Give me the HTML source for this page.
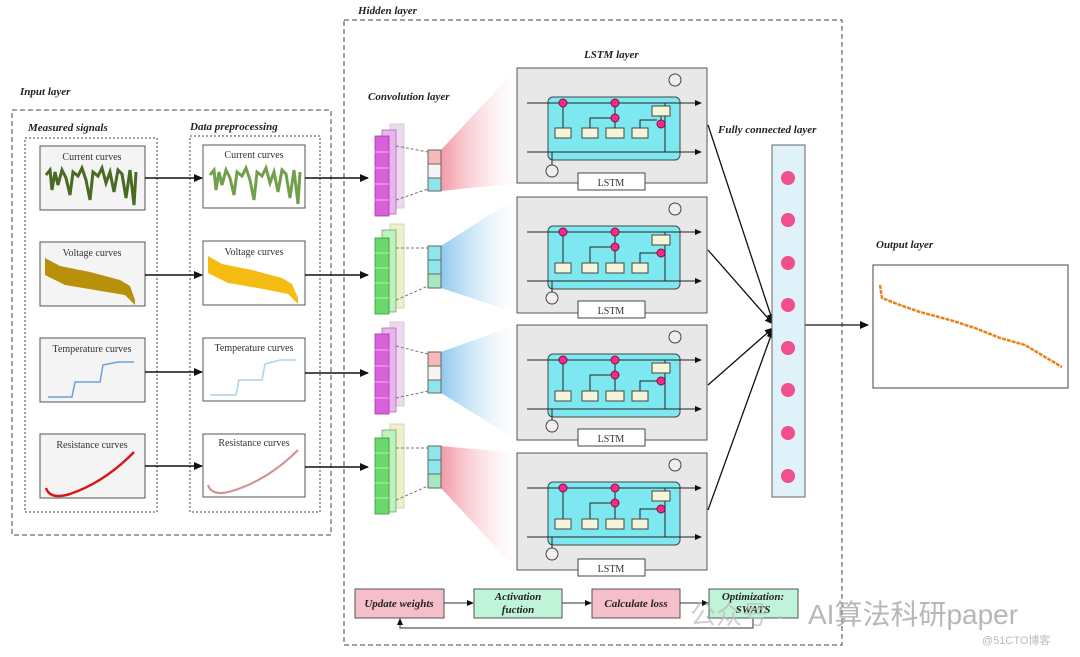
<!DOCTYPE html>
<html><head><meta charset="utf-8"><style>
body{margin:0;background:#fff;}
svg{display:block;font-family:"Liberation Serif",serif;}
.it{font-style:italic;font-weight:bold;font-size:11px;fill:#222}
.bt{font-size:10px;fill:#333}
</style></head><body>
<svg width="1080" height="657" viewBox="0 0 1080 657" xmlns="http://www.w3.org/2000/svg">
<defs>
<marker id="a" markerUnits="userSpaceOnUse" markerWidth="9" markerHeight="8" refX="8" refY="4" orient="auto"><path d="M0,0 L9,4 L0,8 z" fill="#111"/></marker>
<marker id="s" markerUnits="userSpaceOnUse" markerWidth="7" markerHeight="6" refX="6" refY="3" orient="auto"><path d="M0,0 L7,3 L0,6 z" fill="#111"/></marker>
<linearGradient id="gp" x1="0" x2="1"><stop offset="0" stop-color="#f29aa6"/><stop offset="1" stop-color="#fff" stop-opacity="0.3"/></linearGradient>
<linearGradient id="gb" x1="0" x2="1"><stop offset="0" stop-color="#8ec8ee"/><stop offset="1" stop-color="#fff" stop-opacity="0.3"/></linearGradient>
</defs>
<rect width="1080" height="657" fill="#fff"/>
<text x="20" y="95" class="it">Input layer</text>
<rect x="12" y="110" width="319" height="425" fill="none" stroke="#444" stroke-dasharray="5,3"/>
<text x="28" y="131" class="it" font-size="10">Measured signals</text>
<rect x="25" y="138" width="132" height="374" fill="none" stroke="#444" stroke-dasharray="2,2"/>
<text x="190" y="130" class="it" font-size="10">Data preprocessing</text>
<rect x="190" y="136" width="130" height="376" fill="none" stroke="#444" stroke-dasharray="2,2"/>
<g stroke="#555" fill="#f4f4f4">
<rect x="40" y="146" width="105" height="64"/><rect x="40" y="242" width="105" height="64"/><rect x="40" y="338" width="105" height="64"/><rect x="40" y="434" width="105" height="64"/>
<rect x="203" y="145" width="102" height="63" fill="#fff"/><rect x="203" y="241" width="102" height="64" fill="#fff"/><rect x="203" y="338" width="102" height="63" fill="#fff"/><rect x="203" y="434" width="102" height="63" fill="#fff"/>
</g>
<g class="bt" text-anchor="middle">
<text x="92" y="160">Current curves</text><text x="92" y="256">Voltage curves</text><text x="92" y="352">Temperature curves</text><text x="92" y="448">Resistance curves</text>
<text x="254" y="158">Current curves</text><text x="254" y="255">Voltage curves</text><text x="254" y="351">Temperature curves</text><text x="254" y="446">Resistance curves</text>
</g>
<polyline points="46,175 50,170 52,190 55,172 58,185 62,170 66,178 70,195 73,172 78,176 82,168 86,180 90,200 93,172 98,176 102,168 106,183 110,172 114,192 118,170 122,174 126,198 130,170 134,205 136,172" fill="none" stroke="#4a6a24" stroke-width="3"/>
<polyline points="210,175 214,170 216,190 219,172 222,185 226,170 230,178 234,195 237,172 242,176 246,168 250,180 254,200 257,172 262,176 266,168 270,183 274,172 278,192 282,170 286,174 290,198 294,170 298,204 300,172" fill="none" stroke="#72a04a" stroke-width="3"/>
<path d="M45,258 L60,266 L90,272 L120,280 L130,286 L135,300 L135,305 L125,295 L95,290 L65,285 L45,275 z" fill="#b8900a"/>
<path d="M208,256 L222,264 L252,270 L282,278 L292,284 L298,298 L298,304 L288,294 L258,288 L228,283 L208,273 z" fill="#f5bd14"/>
<polyline points="48,397 72,397 75,382 100,382 103,365 118,362 134,362" fill="none" stroke="#6fa0d8" stroke-width="1.5"/>
<polyline points="210,395 236,395 239,380 262,380 265,364 280,360 296,360" fill="none" stroke="#a8d4ec" stroke-width="1.5"/>
<path d="M46,488 Q50,500 70,494 Q105,482 134,452" fill="none" stroke="#d81818" stroke-width="2.5"/>
<path d="M208,485 Q212,497 232,491 Q268,480 298,450" fill="none" stroke="#d49090" stroke-width="2"/>
<g stroke="#111" stroke-width="1.5" marker-end="url(#a)" fill="none">
<line x1="145" y1="178" x2="202" y2="178"/><line x1="145" y1="275" x2="202" y2="275"/><line x1="145" y1="372" x2="202" y2="372"/><line x1="145" y1="466" x2="202" y2="466"/>
<line x1="305" y1="178" x2="368" y2="178"/><line x1="305" y1="275" x2="368" y2="275"/><line x1="305" y1="373" x2="368" y2="373"/><line x1="305" y1="467" x2="368" y2="467"/>
</g>
<text x="358" y="14" class="it">Hidden layer</text>
<rect x="344" y="20" width="498" height="625" fill="none" stroke="#444" stroke-dasharray="5,3"/>
<text x="368" y="100" class="it" font-size="10">Convolution layer</text>
<text x="584" y="58" class="it" font-size="10">LSTM layer</text>
<text x="718" y="133" class="it" font-size="10">Fully connected layer</text>
<!-- conv stacks -->
<g stroke-width="0.8">
<rect x="390" y="124" width="14" height="84" fill="#ecd8f0" stroke="#ccb"/>
<rect x="382" y="130" width="14" height="84" fill="#e6b6ec" stroke="#b6a"/>
<rect x="375" y="136" width="14" height="80" fill="#d860d8" stroke="#a3a"/>
<path d="M375,152h14M375,168h14M375,184h14M375,200h14" stroke="#f4d4f4"/>
<rect x="390" y="224" width="14" height="84" fill="#f0f0c8" stroke="#ccb"/>
<rect x="382" y="230" width="14" height="82" fill="#bff0bf" stroke="#6a6"/>
<rect x="375" y="238" width="14" height="76" fill="#6ad86a" stroke="#393"/>
<path d="M375,253h14M375,268h14M375,283h14M375,298h14" stroke="#d4f4d4"/>
<rect x="390" y="322" width="14" height="84" fill="#ecd8f0" stroke="#ccb"/>
<rect x="382" y="328" width="14" height="84" fill="#e6b6ec" stroke="#b6a"/>
<rect x="375" y="334" width="14" height="80" fill="#d860d8" stroke="#a3a"/>
<path d="M375,350h14M375,366h14M375,382h14M375,398h14" stroke="#f4d4f4"/>
<rect x="390" y="424" width="14" height="84" fill="#f0f0c8" stroke="#ccb"/>
<rect x="382" y="430" width="14" height="82" fill="#bff0bf" stroke="#6a6"/>
<rect x="375" y="438" width="14" height="76" fill="#6ad86a" stroke="#393"/>
<path d="M375,453h14M375,468h14M375,483h14M375,498h14" stroke="#d4f4d4"/>
</g>
<polygon points="441,150 517,68 517,183 441,191" fill="url(#gp)"/>
<polygon points="441,246 517,197 517,313 441,288" fill="url(#gb)"/>
<polygon points="441,352 517,325 517,440 441,393" fill="url(#gb)"/>
<polygon points="441,446 517,453 517,570 441,488" fill="url(#gp)"/>
<rect x="428" y="150" width="13" height="14" fill="#f6b8b8" stroke="#666"/><rect x="428" y="164" width="13" height="14" fill="#f4f4f4" stroke="#666"/><rect x="428" y="178" width="13" height="13" fill="#8fe6ea" stroke="#666"/>
<rect x="428" y="246" width="13" height="14" fill="#8fe6ea" stroke="#666"/><rect x="428" y="260" width="13" height="14" fill="#8fe6ea" stroke="#666"/><rect x="428" y="274" width="13" height="14" fill="#a8e8c0" stroke="#666"/>
<rect x="428" y="352" width="13" height="14" fill="#f6b8b8" stroke="#666"/><rect x="428" y="366" width="13" height="14" fill="#f4f4f4" stroke="#666"/><rect x="428" y="380" width="13" height="13" fill="#8fe6ea" stroke="#666"/>
<rect x="428" y="446" width="13" height="14" fill="#8fe6ea" stroke="#666"/><rect x="428" y="460" width="13" height="14" fill="#8fe6ea" stroke="#666"/><rect x="428" y="474" width="13" height="14" fill="#a8e8c0" stroke="#666"/>
<g stroke="#777" stroke-dasharray="3,2" fill="none">
<line x1="396" y1="146" x2="428" y2="152"/><line x1="396" y1="200" x2="428" y2="189"/>
<line x1="396" y1="248" x2="428" y2="248"/><line x1="396" y1="300" x2="428" y2="286"/>
<line x1="396" y1="346" x2="428" y2="354"/><line x1="396" y1="398" x2="428" y2="391"/>
<line x1="396" y1="448" x2="428" y2="448"/><line x1="396" y1="500" x2="428" y2="486"/>
</g>
<!-- LSTM blocks -->
<g transform="translate(517,68)">
<rect width="190" height="115" fill="#e8e8e8" stroke="#555"/>
<rect x="31" y="29" width="132" height="63" rx="5" fill="#7ee8f0" stroke="#444"/>
<line x1="10" y1="35" x2="184" y2="35" stroke="#222" marker-end="url(#s)"/><line x1="10" y1="84" x2="184" y2="84" stroke="#222" marker-end="url(#s)"/>
<path d="M46,60V39M98,60V54M98,46V39M73,60V50H94M123,60V52H140M144,48V52M148,35V84M35,97V84" stroke="#222" fill="none"/>
<g fill="#f4f4d8" stroke="#444"><rect x="38" y="60" width="16" height="10"/><rect x="65" y="60" width="16" height="10"/><rect x="89" y="60" width="18" height="10"/><rect x="115" y="60" width="16" height="10"/><rect x="135" y="38" width="18" height="10"/></g>
<g fill="#f29" stroke="#622"><circle cx="46" cy="35" r="4"/><circle cx="98" cy="35" r="4"/><circle cx="98" cy="50" r="4"/><circle cx="144" cy="56" r="4"/></g>
<circle cx="35" cy="103" r="6" fill="#eee" stroke="#444"/><circle cx="158" cy="12" r="6" fill="#eee" stroke="#444"/>
<rect x="61" y="105" width="67" height="17" fill="#fff" stroke="#444"/><text x="94" y="118" text-anchor="middle" class="bt">LSTM</text>
</g>
<g transform="translate(517,197)">
<rect width="190" height="116" fill="#e8e8e8" stroke="#555"/>
<rect x="31" y="29" width="132" height="63" rx="5" fill="#7ee8f0" stroke="#444"/>
<line x1="10" y1="35" x2="184" y2="35" stroke="#222" marker-end="url(#s)"/><line x1="10" y1="84" x2="184" y2="84" stroke="#222" marker-end="url(#s)"/>
<path d="M46,66V39M98,66V54M98,46V39M73,66V50H94M123,66V56H140M148,35V84M35,95V84" stroke="#222" fill="none"/>
<g fill="#f4f4d8" stroke="#444"><rect x="38" y="66" width="16" height="10"/><rect x="65" y="66" width="16" height="10"/><rect x="89" y="66" width="18" height="10"/><rect x="115" y="66" width="16" height="10"/><rect x="135" y="38" width="18" height="10"/></g>
<g fill="#f29" stroke="#622"><circle cx="46" cy="35" r="4"/><circle cx="98" cy="35" r="4"/><circle cx="98" cy="50" r="4"/><circle cx="144" cy="56" r="4"/></g>
<circle cx="35" cy="101" r="6" fill="#eee" stroke="#444"/><circle cx="158" cy="12" r="6" fill="#eee" stroke="#444"/>
<rect x="61" y="104" width="67" height="17" fill="#fff" stroke="#444"/><text x="94" y="117" text-anchor="middle" class="bt">LSTM</text>
</g>
<g transform="translate(517,325)">
<rect width="190" height="115" fill="#e8e8e8" stroke="#555"/>
<rect x="31" y="29" width="132" height="63" rx="5" fill="#7ee8f0" stroke="#444"/>
<line x1="10" y1="35" x2="184" y2="35" stroke="#222" marker-end="url(#s)"/><line x1="10" y1="84" x2="184" y2="84" stroke="#222" marker-end="url(#s)"/>
<path d="M46,66V39M98,66V54M98,46V39M73,66V50H94M123,66V56H140M148,35V84M35,95V84" stroke="#222" fill="none"/>
<g fill="#f4f4d8" stroke="#444"><rect x="38" y="66" width="16" height="10"/><rect x="65" y="66" width="16" height="10"/><rect x="89" y="66" width="18" height="10"/><rect x="115" y="66" width="16" height="10"/><rect x="135" y="38" width="18" height="10"/></g>
<g fill="#f29" stroke="#622"><circle cx="46" cy="35" r="4"/><circle cx="98" cy="35" r="4"/><circle cx="98" cy="50" r="4"/><circle cx="144" cy="56" r="4"/></g>
<circle cx="35" cy="101" r="6" fill="#eee" stroke="#444"/><circle cx="158" cy="12" r="6" fill="#eee" stroke="#444"/>
<rect x="61" y="104" width="67" height="17" fill="#fff" stroke="#444"/><text x="94" y="117" text-anchor="middle" class="bt">LSTM</text>
</g>
<g transform="translate(517,453)">
<rect width="190" height="117" fill="#e8e8e8" stroke="#555"/>
<rect x="31" y="29" width="132" height="63" rx="5" fill="#7ee8f0" stroke="#444"/>
<line x1="10" y1="35" x2="184" y2="35" stroke="#222" marker-end="url(#s)"/><line x1="10" y1="84" x2="184" y2="84" stroke="#222" marker-end="url(#s)"/>
<path d="M46,66V39M98,66V54M98,46V39M73,66V50H94M123,66V56H140M148,35V84M35,95V84" stroke="#222" fill="none"/>
<g fill="#f4f4d8" stroke="#444"><rect x="38" y="66" width="16" height="10"/><rect x="65" y="66" width="16" height="10"/><rect x="89" y="66" width="18" height="10"/><rect x="115" y="66" width="16" height="10"/><rect x="135" y="38" width="18" height="10"/></g>
<g fill="#f29" stroke="#622"><circle cx="46" cy="35" r="4"/><circle cx="98" cy="35" r="4"/><circle cx="98" cy="50" r="4"/><circle cx="144" cy="56" r="4"/></g>
<circle cx="35" cy="101" r="6" fill="#eee" stroke="#444"/><circle cx="158" cy="12" r="6" fill="#eee" stroke="#444"/>
<rect x="61" y="106" width="67" height="17" fill="#fff" stroke="#444"/><text x="94" y="119" text-anchor="middle" class="bt">LSTM</text>
</g>
<g stroke="#111" stroke-width="1.3" fill="none" marker-end="url(#a)">
<line x1="708" y1="125" x2="773" y2="322"/><line x1="708" y1="250" x2="773" y2="324"/><line x1="708" y1="385" x2="773" y2="328"/><line x1="708" y1="510" x2="773" y2="330"/>
<line x1="805" y1="325" x2="868" y2="325"/>
</g>
<rect x="772" y="145" width="33" height="352" fill="#dff2fa" stroke="#666"/>
<g fill="#f0508c"><circle cx="788" cy="178" r="7"/><circle cx="788" cy="220" r="7"/><circle cx="788" cy="263" r="7"/><circle cx="788" cy="305" r="7"/><circle cx="788" cy="348" r="7"/><circle cx="788" cy="390" r="7"/><circle cx="788" cy="433" r="7"/><circle cx="788" cy="476" r="7"/></g>
<text x="876" y="248" class="it" font-size="10">Output layer</text>
<rect x="873" y="265" width="195" height="123" fill="#fff" stroke="#444"/>
<polyline points="880,285 882,298 900,305 920,312 950,320 975,328 1000,338 1025,345 1045,357 1062,367" fill="none" stroke="#e8821c" stroke-width="2.5" stroke-dasharray="4,1"/>
<g stroke="#555">
<rect x="355" y="589" width="89" height="29" fill="#f4bfc8"/><rect x="474" y="589" width="88" height="29" fill="#bff4d8"/>
<rect x="592" y="589" width="88" height="29" fill="#f4bfc8"/><rect x="709" y="589" width="89" height="29" fill="#bff4d8"/>
</g>
<g stroke="#333" fill="none" marker-end="url(#s)">
<line x1="444" y1="603" x2="473" y2="603"/><line x1="562" y1="603" x2="591" y2="603"/><line x1="680" y1="603" x2="708" y2="603"/>
<polyline points="753,618 753,628 400,628 400,619"/>
</g>
<g class="it" text-anchor="middle" font-size="10">
<text x="399" y="607">Update weights</text>
<text x="518" y="600">Activation</text><text x="518" y="613">fuction</text>
<text x="636" y="607">Calculate loss</text>
<text x="753" y="600">Optimization:</text><text x="753" y="613">SWATS</text>
</g>
<text x="808" y="624" font-family="Liberation Sans, Noto Sans CJK SC, sans-serif" font-size="28" fill="#aaa" fill-opacity="0.85">AI算法科研paper</text>
<text x="690" y="624" font-family="Liberation Sans, Noto Sans CJK SC, sans-serif" font-size="26" fill="#bbb" fill-opacity="0.7">公众号 ·</text>
<text x="982" y="644" font-family="Liberation Sans, Noto Sans CJK SC, sans-serif" font-size="11" fill="#bbb">@51CTO博客</text>
</svg>
</body></html>
